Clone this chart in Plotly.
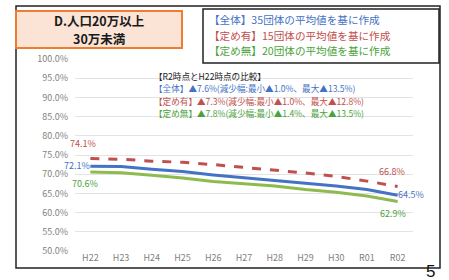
import plotly.graph_objects as go

categories = ["H22", "H23", "H24", "H25", "H26", "H27", "H28", "H29", "H30", "R01", "R02"]
zentai = [72.1, 72.0, 71.3, 70.7, 69.8, 69.1, 68.3, 67.6, 66.9, 66.0, 64.5]
sadame_ari = [74.1, 73.9, 73.4, 73.1, 72.5, 71.8, 71.0, 70.3, 69.4, 68.2, 66.8]
sadame_nashi = [70.6, 70.4, 69.7, 69.0, 68.1, 67.5, 66.9, 66.0, 65.3, 64.3, 62.9]
y_ticks = [50, 55, 60, 65, 70, 75, 80, 85, 90, 95, 100]

title_lines = ["D.人口20万以上", "30万未満"]
note_lines = ["【全体】35団体の平均値を基に作成",
              "【定め有】15団体の平均値を基に作成",
              "【定め無】20団体の平均値を基に作成"]
cmp_lines = ["【R2時点とH22時点の比較】",
             "【全体】▲7.6%(減少幅:最小▲1.0%、最大▲13.5%)",
             "【定め有】▲7.3%(減少幅:最小▲1.0%、最大▲12.8%)",
             "【定め無】▲7.8%(減少幅:最小▲1.4%、最大▲13.5%)"]

W, H = 449, 280
L, R, T, B = 75, 36, 59, 29
PW, PH = W - L - R, H - T - B

def px(x):
    return (x - L) / PW

def py(y):
    return 1 - (y - T) / PH

BLUE = "#4472c4"
RED = "#c0504d"
GREEN = "#8dbb4e"
GREEN_T = "#4aa33a"
FONT = "Noto Sans CJK JP"

fig = go.Figure()
fig.add_trace(go.Scatter(x=categories, y=sadame_ari, mode="lines",
                         line=dict(color=RED, width=3, dash="dash"), name="定め有"))
fig.add_trace(go.Scatter(x=categories, y=zentai, mode="lines",
                         line=dict(color=BLUE, width=3), name="全体"))
fig.add_trace(go.Scatter(x=categories, y=sadame_nashi, mode="lines",
                         line=dict(color=GREEN, width=3), name="定め無"))

shapes = [
    dict(type="rect", xref="paper", yref="paper", x0=px(16), x1=px(440), y0=py(268), y1=py(6),
         line=dict(color="#222", width=1.5), layer="below"),
    dict(type="rect", xref="paper", yref="paper", x0=px(16), x1=px(182), y0=py(48), y1=py(11),
         line=dict(color="#ed7d31", width=2), fillcolor="#fbe4d5"),
    dict(type="rect", xref="paper", yref="paper", x0=px(203), x1=px(439), y0=py(63), y1=py(9),
         line=dict(color="#222", width=1.5), fillcolor="white"),
]

ann = []
for i, t in enumerate(title_lines):
    ann.append(dict(xref="paper", yref="paper", x=px(99), y=py(20.5 + 18.2 * i), xanchor="center",
                    yanchor="middle", text="<b>" + t + "</b>",
                    showarrow=False, font=dict(family=FONT, size=12.5, color="#1a1a1a")))
for i, (t, c) in enumerate(zip(note_lines, [BLUE, RED, GREEN_T])):
    ann.append(dict(xref="paper", yref="paper", x=px(207), y=py(19.5 + 15.5 * i), text=t,
                    xanchor="left", yanchor="middle",
                    showarrow=False, font=dict(family=FONT, size=10.6, color=c)))
for i, (t, c) in enumerate(zip(cmp_lines, ["#222", BLUE, RED, GREEN_T])):
    ann.append(dict(xref="paper", yref="paper", x=px(152), y=py(75.5 + 12.5 * i), text=t,
                    xanchor="left", yanchor="middle",
                    showarrow=False, font=dict(family=FONT, size=8.6, color=c)))

def lab(xi, series, color, dx, dy):
    ann.append(dict(xref="x", yref="y", x=categories[xi], y=series[xi], text=f"{series[xi]:.1f}%",
                    xanchor="center", yanchor="middle",
                    showarrow=False, xshift=dx, yshift=dy, font=dict(family=FONT, size=9, color=color)))

lab(0, sadame_ari, RED, -7, 15)
lab(0, zentai, BLUE, -13, 1)
lab(0, sadame_nashi, GREEN_T, -5, -12)
lab(-1, sadame_ari, RED, -6, 15)
lab(-1, zentai, BLUE, 13, 1)
lab(-1, sadame_nashi, GREEN_T, -5, -12)

ann.append(dict(xref="paper", yref="paper", x=px(430), y=py(271), xanchor="center", yanchor="middle",
                text="5", showarrow=False,
                font=dict(family="Liberation Sans", size=17, color="#111")))

fig.update_layout(
    width=W, height=H, margin=dict(l=L, r=R, t=T, b=B, autoexpand=False),
    paper_bgcolor="white", plot_bgcolor="white", showlegend=False,
    shapes=shapes, annotations=ann,
    font=dict(family=FONT),
    xaxis=dict(type="category", range=[-0.5, len(categories) - 0.5], showgrid=False, showline=False,
               ticks="", zeroline=False, tickfont=dict(size=9, color="#7f7f7f"), automargin=False),
    yaxis=dict(range=[50, 100], tickvals=y_ticks, ticktext=[f"{v:.1f}%" for v in y_ticks],
               showgrid=True, gridcolor="#e3e3e3", gridwidth=1, zeroline=False, showline=False,
               tickfont=dict(size=9, color="#7f7f7f"), ticklabelstandoff=6, automargin=False),
)

fig.write_html("out.html", config={"displayModeBar": False},
               post_script="document.body.style.margin='0';")
